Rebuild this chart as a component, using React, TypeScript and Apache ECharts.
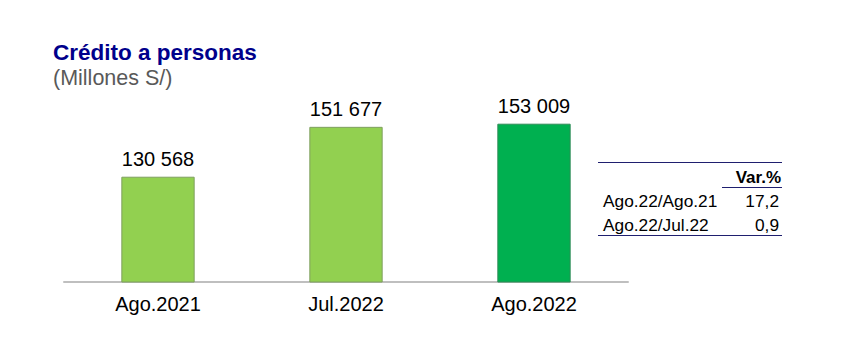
import React, { useEffect, useRef } from "react";
import * as echarts from "echarts";

const categories = ["Ago.2021", "Jul.2022", "Ago.2022"];
const values = [130568, 151677, 153009];
const barColors = ["#92D050", "#92D050", "#00B050"];
const tableHeader = "Var.%";
const tableRows = ["Ago.22/Ago.21", "Ago.22/Jul.22"];
const tableValues = ["17,2", "0,9"];

const FONT = "Arial, 'Liberation Sans', sans-serif";

function fmt(v: number) {
  return String(v).replace(/\B(?=(\d{3})+(?!\d))/g, " ");
}

export default function App() {
  const ref = useRef<HTMLDivElement>(null);
  useEffect(() => {
    if (!ref.current) return;
    const chart = echarts.init(ref.current, undefined, { renderer: "svg" });
    const tx = 781;
    const graphics: any[] = [
      {
        type: "text",
        x: 53,
        y: 52,
        style: {
          text: "Crédito a personas",
          font: `bold 22.5px ${FONT}`,
          fill: "#00008B",
          textVerticalAlign: "middle",
        },
      },
      {
        type: "text",
        x: 53,
        y: 78,
        style: {
          text: "(Millones S/)",
          font: `21.5px ${FONT}`,
          fill: "#595959",
          textVerticalAlign: "middle",
        },
      },
      {
        type: "line",
        shape: { x1: 598, y1: 162.5, x2: 782, y2: 162.5 },
        style: { stroke: "#1F1F6F", lineWidth: 1 },
      },
      {
        type: "text",
        x: tx,
        y: 177,
        style: {
          text: tableHeader,
          font: `bold 17px ${FONT}`,
          fill: "#000",
          textAlign: "right",
          textVerticalAlign: "middle",
        },
      },
      {
        type: "line",
        shape: { x1: 722, y1: 187.5, x2: 782, y2: 187.5 },
        style: { stroke: "#1F1F6F", lineWidth: 1 },
      },
      {
        type: "line",
        shape: { x1: 598, y1: 235.5, x2: 782, y2: 235.5 },
        style: { stroke: "#1F1F6F", lineWidth: 1 },
      },
    ];
    tableRows.forEach((r, i) => {
      const y = 201 + i * 23.5;
      graphics.push({
        type: "text",
        x: 603,
        y,
        style: { text: r, font: `17.3px ${FONT}`, fill: "#000", textVerticalAlign: "middle" },
      });
      graphics.push({
        type: "text",
        x: tx - 2,
        y,
        style: {
          text: tableValues[i],
          font: `17.3px ${FONT}`,
          fill: "#000",
          textAlign: "right",
          textVerticalAlign: "middle",
        },
      });
    });

    chart.setOption({
      animation: false,
      grid: { left: 64, right: 220, top: 93, bottom: 82 },
      xAxis: {
        type: "category",
        data: categories,
        axisLine: { lineStyle: { color: "#BFBFBF", width: 2 } },
        axisTick: { show: false },
        axisLabel: { color: "#000", fontSize: 20, fontFamily: FONT, margin: 12 },
      },
      yAxis: {
        type: "value",
        min: 86000,
        max: 166000,
        show: false,
        splitLine: { show: false },
      },
      series: [
        {
          type: "bar",
          barWidth: "39%",
          data: values.map((v, i) => ({
            value: v,
            itemStyle: {
              color: barColors[i],
              borderColor: i === 2 ? "#2E8B57" : "#7F9F5F",
              borderWidth: 1,
            },
          })),
          label: {
            show: true,
            position: "top",
            distance: 8,
            color: "#000",
            fontSize: 20,
            fontFamily: FONT,
            formatter: (p: any) => fmt(p.value),
          },
        },
      ],
      graphic: graphics,
    });
    return () => chart.dispose();
  }, []);
  return <div ref={ref} style={{ width: 848, height: 364, marginLeft: -8, marginTop: -8 }} />;
}
